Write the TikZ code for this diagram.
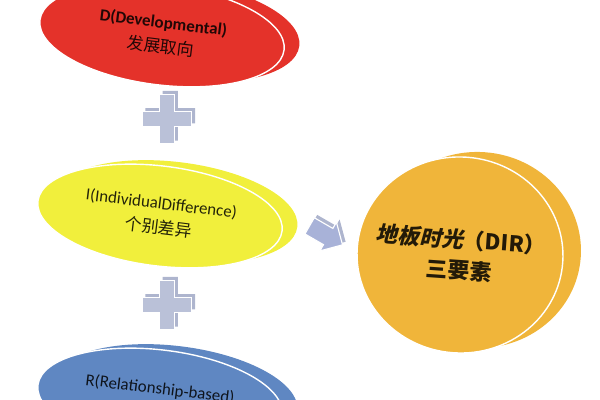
\documentclass[tikz,border=0pt]{standalone}
\usepackage{fontspec}
\setmainfont{Carlito}
\newfontfamily\cjk{Noto Sans CJK SC}
\newfontfamily\cjkslant[FakeSlant=0.2]{Noto Sans CJK SC}
\usetikzlibrary{shapes.geometric, shapes.arrows}
\usetikzlibrary{positioning}
\definecolor{discred}{HTML}{E4322A}
\definecolor{discyellow}{HTML}{F1EF3C}
\definecolor{discblue}{HTML}{5F87C2}
\definecolor{coinorange}{HTML}{F0B53A}
\definecolor{plusgray}{HTML}{BAC1D8}
\definecolor{plusdark}{HTML}{AEB5CE}
\definecolor{arrowblue}{HTML}{A8B2D8}

\begin{document}
\begin{tikzpicture}[every node/.style={inner sep=0pt, align=center, text opacity=0.85},
disc/.style={ellipse, minimum width=6.15cm, minimum height=2.5cm, rotate=-7, font=\fontsize{12}{17.5}\selectfont},
front/.style={draw=white, line width=1pt},
coin/.style={ellipse, fill=coinorange, minimum width=5.15cm, minimum height=4.9cm, rotate=-4},
arrowhead/.style={single arrow, minimum height=0.95cm, inner xsep=0pt, inner ysep=0.22cm,
single arrow head extend=0.18cm, rotate=-30}]
\useasboundingbox (0,0) rectangle (15,10);
% the three elements
\foreach \n/\c/\x/\y in {D/discred/4.05/9.125, I/discyellow/4.0/4.6, R/discblue/4.0/0.0}{
\node[disc, fill=\c] (\n back) at (\x+0.38,\y+0.1) {};}
\node[disc, front, fill=discred] (D) at (4.05,9.125) {\bfseries D(Developmental)\\{\cjk 发展取向}};
\node[disc, front, fill=discyellow] (I) at (4.0,4.6) {I(IndividualDifference)\\{\cjk 个别差异}};
\node[disc, front, fill=discblue] (R) at (4.0,0.0) {};
\node[rotate=-7, font=\fontsize{12}{17.5}\selectfont] (Rtext) at (4.0,0.26) {R(Relationship-based)};
% the result
\node[coin] (DIRback) at (11.95,3.75) {};
\node[coin, front] (DIR) at (11.5,3.625) {};
\node[rotate=-4, font=\bfseries\fontsize{15.5}{22}\selectfont] (DIRtext) at (DIR)
{{\cjkslant 地板时光}{\cjk （DIR）}\\{\cjk 三要素}};
% plus signs
\foreach \y in {7.025, 2.375}{
\begin{scope}[shift={(4.175,\y)}]
\fill[plusdark] (0.08,0.08) ++(-0.19,0.62) -- ++(0.38,0) -- ++(0,-0.43) -- ++(0.43,0) -- ++(0,-0.38)
-- ++(-0.43,0) -- ++(0,-0.43) -- ++(-0.38,0) -- ++(0,0.43) -- ++(-0.43,0) -- ++(0,0.38) -- ++(0.43,0) -- cycle;
\filldraw[plusgray, draw=white, line width=0.8pt] (-0.19,0.62) -- ++(0.38,0) -- ++(0,-0.43) -- ++(0.43,0) -- ++(0,-0.38)
-- ++(-0.43,0) -- ++(0,-0.43) -- ++(-0.38,0) -- ++(0,0.43) -- ++(-0.43,0) -- ++(0,0.38) -- ++(0.43,0) -- cycle;
\end{scope}}
% arrow
\node[arrowhead, fill=plusdark] (goback) at (8.13,4.25) {};
\node[arrowhead, fill=arrowblue, draw=white, line width=0.8pt] (go) at (8.05,4.175) {};
\end{tikzpicture}
\end{document}
